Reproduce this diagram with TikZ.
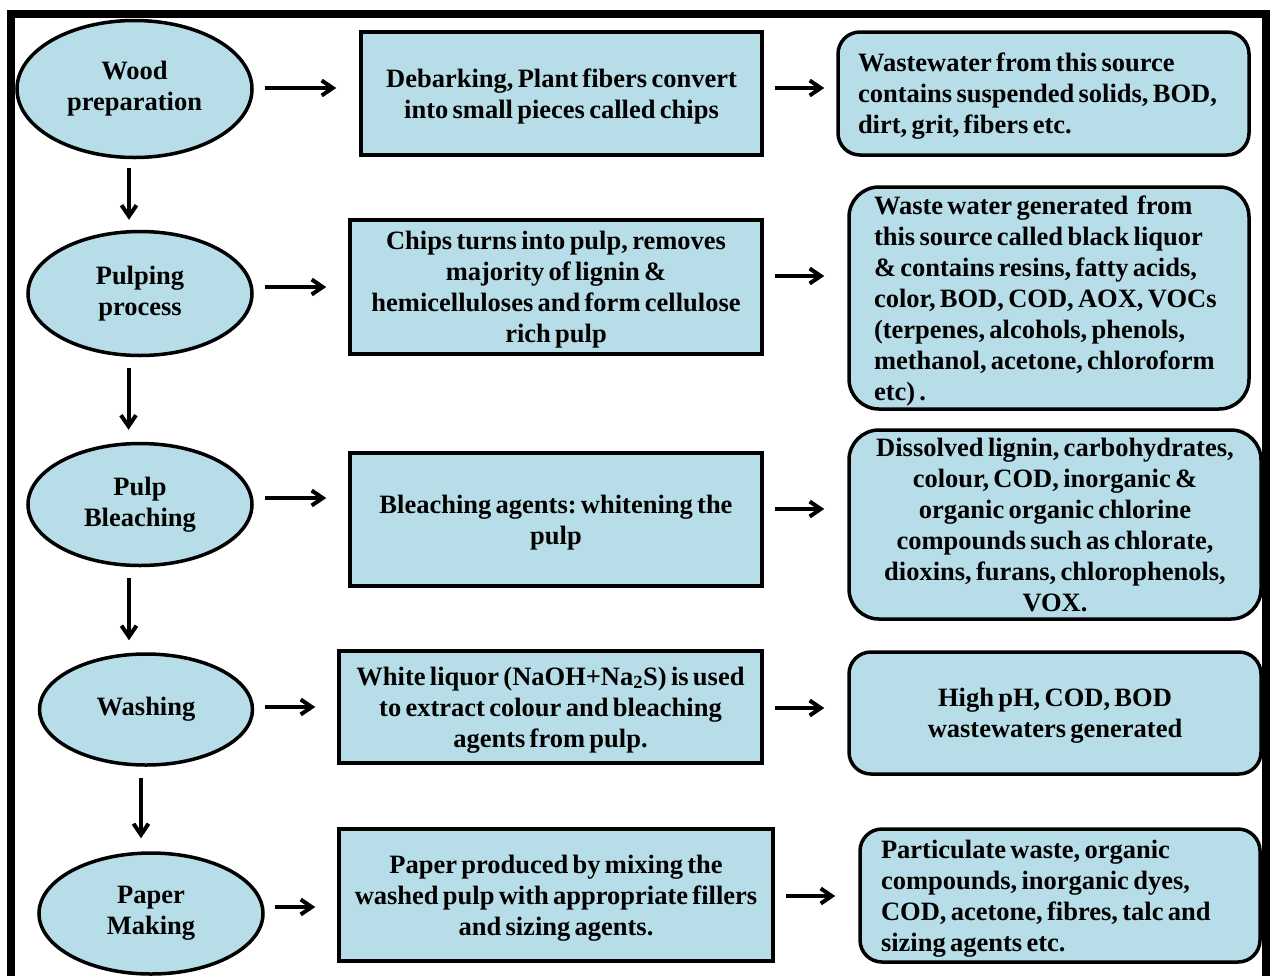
\documentclass[tikz,border=0pt]{standalone}
\usepackage{fontspec}
\setmainfont{Liberation Serif}[WordSpace=0.65]
\usetikzlibrary{shapes.geometric,arrows.meta}
\definecolor{boxfill}{HTML}{B7DEE8}
\frenchspacing
\begin{document}
\begin{tikzpicture}[x=1pt,y=-1pt,
  every node/.style={font=\fontsize{26.5}{31}\selectfont\bfseries\frenchspacing, text=black},
  stage/.style={ellipse, draw, line width=3.5pt, fill=boxfill, inner sep=0pt, align=center},
  midbox/.style={rectangle, draw, line width=3.5pt, fill=boxfill, inner sep=0pt, align=center, text depth=0pt},
  outbox/.style={rectangle, rounded corners=22pt, draw, line width=3.5pt, fill=boxfill, inner sep=0pt, text depth=0pt},
  flow/.style={line width=4pt, -{Straight Barb[length=11pt,width=15pt]}},
]
\clip (0,0) rectangle (1273,975);
\draw[line width=8pt] (11,13.5) rectangle (1266,1000);

% stages
\node[stage, minimum width=235pt, minimum height=137pt] (e1) at (134.5,89) {Wood\\preparation};
\node[stage, minimum width=224pt, minimum height=124pt] (e2) at (140,293.5) {Pulping\\process};
\node[stage, minimum width=224pt, minimum height=122pt] (e3) at (140,504.5) {Pulp\\Bleaching};
\node[stage, minimum width=213pt, minimum height=111pt] (e4) at (146,709.5) {Washing};
\node[stage, minimum width=224pt, minimum height=121pt] (e5) at (151,913.5) {Paper\\Making};

% process boxes
\node[midbox, minimum width=401pt, minimum height=123pt] (b1) at (561.5,93.5) {Debarking, Plant fibers convert\\into small pieces called chips};
\node[midbox, minimum width=412pt, minimum height=134pt] (b2) at (556,287) {Chips turns into pulp, removes\\majority of lignin \&\\hemicelluloses and form cellulose\\rich pulp};
\node[midbox, minimum width=412pt, minimum height=133pt] (b3) at (556,519.5) {Bleaching agents: whitening the\\pulp};
\node[midbox, minimum width=423pt, minimum height=112pt] (b4) at (550.5,707) {White liquor (NaOH+Na\textsubscript{2}S) is used\\to extract colour and bleaching\\agents from pulp.};
\node[midbox, minimum width=434pt, minimum height=132pt] (b5) at (556,895) {Paper produced by mixing the\\washed pulp with appropriate fillers\\and sizing agents.};

% waste boxes
\node[outbox, minimum width=411pt, minimum height=123pt, align=left] (r1) at (1043.5,93.5) {\makebox[371pt][l]{Wastewater from this source}\\contains suspended solids, BOD,\\dirt, grit, fibers etc.};
\node[outbox, rounded corners=30pt, minimum width=400pt, minimum height=222pt, align=left] (r2) at (1049,298) {\makebox[350pt][l]{Waste water generated\ \ from}\\this source called black liquor\\\& contains resins, fatty acids,\\color, BOD, COD, AOX, VOCs\\(terpenes, alcohols, phenols,\\methanol, acetone, chloroform\\etc) .};
\node[outbox, rounded corners=30pt, minimum width=412pt, minimum height=189pt, align=center] (r3) at (1055,524.5) {Dissolved lignin, carbohydrates,\\colour, COD, inorganic \&\\organic organic chlorine\\compounds such as chlorate,\\dioxins, furans, chlorophenols,\\VOX.};
\node[outbox, minimum width=412pt, minimum height=122pt, align=center] (r4) at (1055,713) {High pH, COD, BOD\\wastewaters generated};
\node[outbox, minimum width=400pt, minimum height=133pt, align=left] (r5) at (1060,895.5) {\makebox[358pt][l]{Particulate waste, organic}\\compounds, inorganic dyes,\\COD, acetone, fibres, talc and\\sizing agents etc.};

% horizontal flows
\draw[flow, shorten <=11pt, shorten >=23pt] (e1.east |- 0,88) -- (b1.west |- 0,88);
\draw[flow, shorten <=11pt, shorten >=12pt] (b1.east |- 0,88) -- (r1.west |- 0,88);
\draw[flow, shorten <=11pt, shorten >=22pt] (e2.east |- 0,287) -- (b2.west |- 0,287);
\draw[flow, shorten <=11pt, shorten >=23pt] (b2.east |- 0,276) -- (r2.west |- 0,276);
\draw[flow, shorten <=11pt, shorten >=22pt] (e3.east |- 0,498) -- (b3.west |- 0,498);
\draw[flow, shorten <=11pt, shorten >=23pt] (b3.east |- 0,509) -- (r3.west |- 0,509);
\draw[flow, shorten <=10.5pt, shorten >=22pt] (e4.east |- 0,707) -- (b4.west |- 0,707);
\draw[flow, shorten <=11pt, shorten >=23pt] (b4.east |- 0,708) -- (r4.west |- 0,708);
\draw[flow, shorten <=10pt, shorten >=22pt] (e5.east |- 0,907) -- (b5.west |- 0,907);
\draw[flow, shorten <=11pt, shorten >=23pt] (b5.east |- 0,896) -- (r5.west |- 0,896);

% vertical flows
\draw[flow, shorten <=9pt, shorten >=10pt] (129,0 |- e1.south) -- (129,0 |- e2.north);
\draw[flow, shorten <=11pt, shorten >=12pt] (128.5,0 |- e2.south) -- (128.5,0 |- e3.north);
\draw[flow, shorten <=11pt, shorten >=12pt] (129,0 |- e3.south) -- (129,0 |- e4.north);
\draw[flow, shorten <=11pt, shorten >=13pt] (141,0 |- e4.south) -- (141,0 |- e5.north);
\end{tikzpicture}
\end{document}
